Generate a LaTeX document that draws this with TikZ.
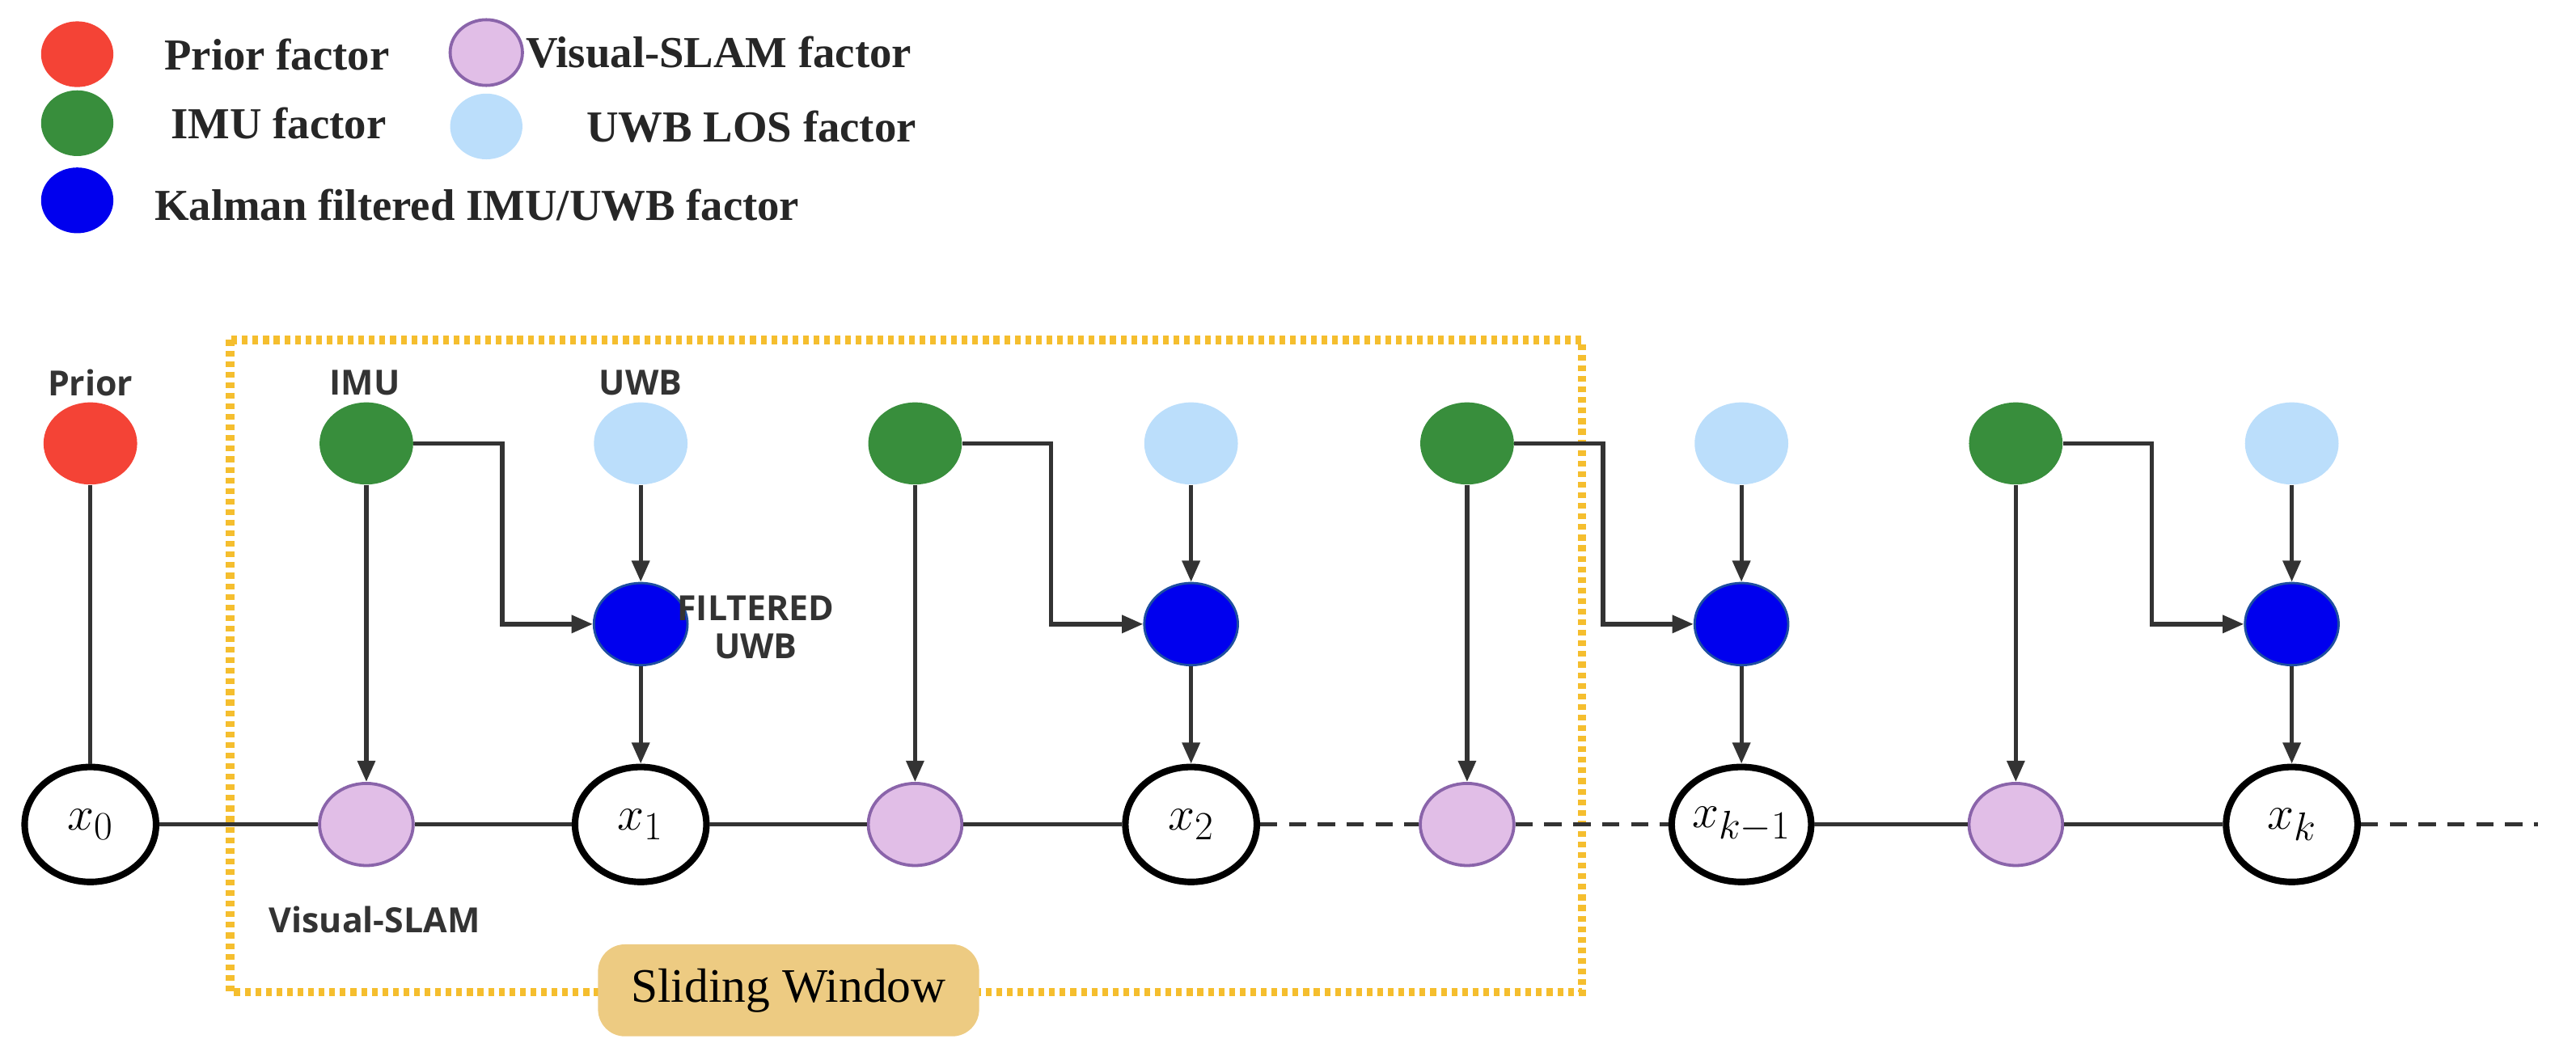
\documentclass[tikz,border=0pt]{standalone}
\usepackage{fontspec}
\setmainfont{Liberation Serif}
\newfontfamily\lab{Open Sans}
\usetikzlibrary{arrows.meta,shapes.geometric}
\definecolor{cred}{HTML}{F44336}
\definecolor{cgreen}{HTML}{388E3C}
\definecolor{clblue}{HTML}{BBDEFB}
\definecolor{cblue}{HTML}{0000EE}
\definecolor{cblueb}{HTML}{1E4FA0}
\definecolor{cpurp}{HTML}{E1BEE7}
\definecolor{cpurpb}{HTML}{8A64AA}
\definecolor{corange}{HTML}{F5BE2E}
\definecolor{cbox}{HTML}{EDCB82}
\newlength\unitx \setlength\unitx{0.3mm}
\tikzset{
 fac/.style={ellipse,minimum width=57\unitx,minimum height=50\unitx,inner sep=0},
 red/.style={fac,fill=cred},
 grn/.style={fac,fill=cgreen},
 lbl/.style={fac,fill=clblue},
 blu/.style={fac,fill=cblue,draw=cblueb,line width=1.2pt},
 pur/.style={fac,fill=cpurp,draw=cpurpb,line width=1.6pt},
 var/.style={ellipse,minimum width=80\unitx,minimum height=70\unitx,inner sep=0,draw=black,line width=3.4pt,fill=white,font=\fontsize{32}{34}\selectfont},
 con/.style={line width=2.2pt,draw=black!80},
 arr/.style={con,-{Triangle[length=11pt,width=9pt]}},
 leg/.style={font=\bfseries\fontsize{23}{26}\selectfont,anchor=west,text=black!85},
 tag/.style={font=\lab\bfseries\fontsize{18}{20}\selectfont,text=black!80},
 lc/.style={minimum width=44\unitx,minimum height=40\unitx},
}
\begin{document}
\begin{tikzpicture}[x=0.3mm,y=-0.3mm]
\useasboundingbox (0,0) rectangle (1568,645.4);
% legend
\node[red,lc] (l1) at (47,33) {};
\node[leg] (t1) at (96,33) {Prior factor};
\node[grn,lc] (l2) at (47,75) {};
\node[leg] (t2) at (100,75) {IMU factor};
\node[fac,fill=cblue,lc] (l3) at (47,122) {};
\node[leg] (t3) at (90,125) {Kalman filtered IMU/UWB factor};
\node[pur,lc] (l4) at (296,32) {};
\node[leg] (t4) at (316,32) {Visual-SLAM factor};
\node[lbl,lc] (l5) at (296,77) {};
\node[leg] (t5) at (353,77) {UWB LOS factor};
% sliding window
\draw[corange,line width=4.5pt,dash pattern=on 3pt off 2.5pt] (140,207) rectangle (963,604);
\node[draw=none,fill=cbox,rounded corners=14pt,minimum width=232\unitx,minimum height=56\unitx,font=\fontsize{25}{27}\selectfont] (sw) at (480,603) {Sliding Window};
% variables
\node[var] (x0) at (55,502) {$x_0$};
\node[var] (x1) at (390,502) {$x_1$};
\node[var] (x2) at (725,502) {$x_2$};
\node[var] (x3) at (1060,502) {$x_{k-1}$};
\node[var] (x4) at (1395,502) {$x_k$};
\coordinate (end) at (1545,502);
\foreach \i/\x in {1/223,2/557,3/893,4/1227}{
  \node[pur] (p\i) at (\x,502) {};
  \node[grn] (g\i) at (\x,270) {};
}
\foreach \i/\x in {1/390,2/725,3/1060,4/1395}{
  \node[lbl] (u\i) at (\x,270) {};
  \node[blu] (b\i) at (\x,380) {};
}
\node[red] (pr) at (55,270) {};
% chain
\draw[con] (x0) -- (p1) -- (x1) -- (p2) -- (x2);
\draw[con,dash pattern=on 9pt off 6pt] (x2) -- (p3) -- (x3);
\draw[con] (x3) -- (p4) -- (x4);
\draw[con,dash pattern=on 9pt off 6pt] (x4) -- (end);
\draw[con] (pr) -- (x0);
\foreach \i in {1,2,3,4}{
  \draw[arr] (g\i) -- (p\i);
  \draw[arr] (u\i) -- (b\i);
  \draw[arr] (b\i) -- (x\i);
  \draw[arr] (g\i.east) -- ++(54,0) |- (b\i.west);
}
% labels
\node[tag] (tp) at (55,233) {Prior};
\node[tag] (ti) at (222,233) {IMU};
\node[tag] (tu) at (390,233) {UWB};
\node[tag,align=center] (tf) at (460,382) {FILTERED\\UWB};
\node[tag] (tv) at (228,560) {Visual-SLAM};
\end{tikzpicture}
\end{document}
